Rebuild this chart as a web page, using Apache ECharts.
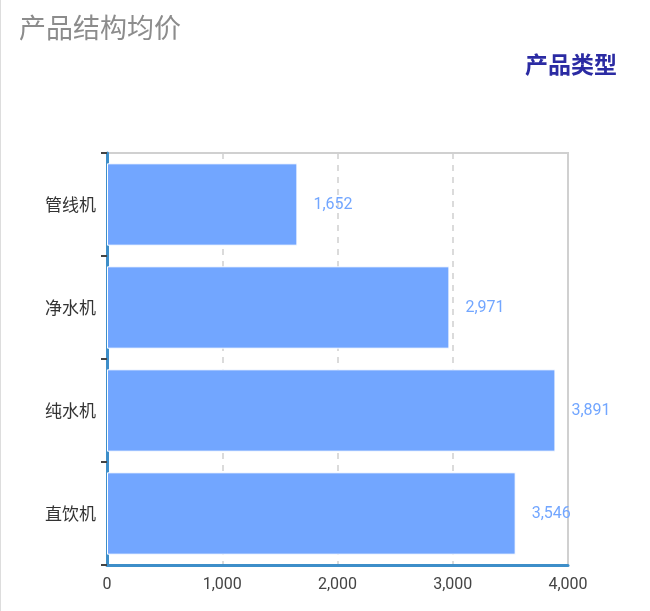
<!DOCTYPE html>
<html>
<head>
<meta charset="utf-8">
<script src="https://cdn.jsdelivr.net/npm/echarts@6/dist/echarts.min.js"></script>
<style>
  html, body { margin: 0; padding: 0; background: #fff; }
  #chart { width: 649px; height: 611px; border-left: 1px solid #ddd; }
</style>
</head>
<body>
<div id="chart"></div>
<script>
// categories listed bottom to top
var categories = ['直饮机', '纯水机', '净水机', '管线机'];
var prices = [3546, 3891, 2971, 1652];
var seriesName = '产品类型';

var myChart = echarts.init(document.getElementById('chart'));

var fmt = function (v) { return Number(v).toLocaleString('en-US'); };

var option = {
    title: {
        text: '产品结构均价',
        left: 13,
        top: 9,
        textStyle: {
            color: '#8c8c8c',
            fontSize: 27,
            fontWeight: 'normal',
            fontFamily: 'Noto Sans CJK SC'
        }
    },
    legend: {
        data: [seriesName],
        right: 28,
        top: 48,
        icon: 'none',
        itemWidth: 0,
        itemGap: 0,
        textStyle: {
            color: '#2b2ba3',
            fontSize: 23,
            fontWeight: 'bold',
            fontFamily: 'Noto Sans CJK SC'
        }
    },
    grid: {
        left: 106,
        right: 82,
        top: 153,
        bottom: 46,
        show: true,
        borderColor: '#d0d0d0',
        borderWidth: 2
    },
    xAxis: {
        type: 'value',
        min: 0,
        max: 4000,
        interval: 1000,
        axisLine: { show: true, lineStyle: { color: '#3d8ec9', width: 3 } },
        axisTick: { show: false },
        axisLabel: {
            color: '#444',
            fontSize: 16,
            fontFamily: 'Roboto',
            margin: 12,
            formatter: fmt
        },
        splitLine: { show: true, lineStyle: { color: '#cfcfcf', type: [6, 6], width: 1.5 } }
    },
    yAxis: {
        type: 'category',
        data: categories,
        axisLine: { show: true, lineStyle: { color: '#3d8ec9', width: 3 } },
        axisTick: { show: true, length: 6, lineStyle: { color: '#444', width: 2 } },
        axisLabel: { color: '#333', fontSize: 17, margin: 11, fontFamily: 'Noto Sans CJK SC' }
    },
    series: [{
        name: seriesName,
        type: 'bar',
        data: prices,
        barWidth: '80%',
        itemStyle: { color: '#72a6ff', borderColor: '#fff', borderWidth: 1 },
        label: {
            show: true,
            position: 'right',
            distance: 16,
            color: '#72a6ff',
            fontSize: 16,
            fontFamily: 'Roboto',
            formatter: function (p) { return fmt(p.value); }
        }
    }]
};

myChart.setOption(option);
</script>
</body>
</html>
